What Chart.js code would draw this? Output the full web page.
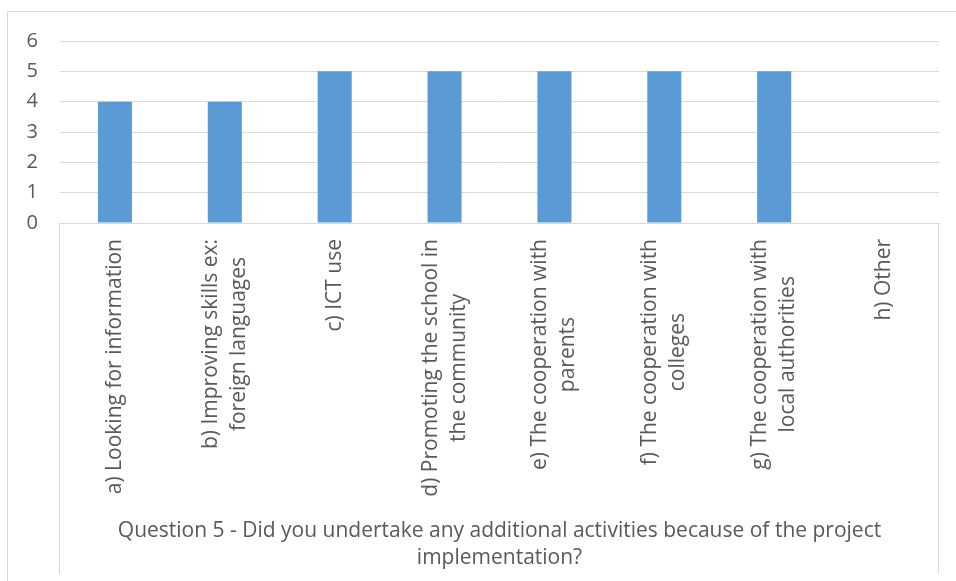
<!DOCTYPE html>
<html>
<head>
<meta charset="utf-8">
<script src="https://cdn.jsdelivr.net/npm/chart.js@4/dist/chart.umd.min.js"></script>
<style>
  html, body { margin: 0; padding: 0; background: #ffffff; }
  #wrap { width: 956px; height: 581px; }
</style>
</head>
<body>
<div id="wrap"><canvas id="c" width="956" height="581"></canvas></div>
<script>
// ---- data ----
const categories = [
  ["a) Looking for information"],
  ["b) Improving skills ex:", "foreign languages"],
  ["c) ICT use"],
  ["d) Promoting the school in", "the community"],
  ["e) The cooperation with", "parents"],
  ["f) The cooperation with", "colleges"],
  ["g) The cooperation with", "local authorities"],
  ["h) Other"]
];
const values = [4, 4, 5, 5, 5, 5, 5, 0];
const yTicks = [0, 1, 2, 3, 4, 5, 6];
const axisTitle = ["Question 5 - Did you undertake any additional activities because of the project", "implementation?"];

const FONT = "'Open Sans', 'Liberation Sans', sans-serif";
const TEXT = "#595959";
const GRID = "#d9d9d9";
const LABEL_SIZE = 21;
const LABEL_LINE = 28;

const framePlugin = {
  id: 'frame',
  beforeDraw(chart) {
    const ctx = chart.ctx;
    ctx.save();
    ctx.fillStyle = '#ffffff';
    ctx.fillRect(0, 0, chart.width, chart.height);
    ctx.strokeStyle = GRID;
    ctx.lineWidth = 1;
    ctx.beginPath();
    ctx.moveTo(7.5, chart.height);
    ctx.lineTo(7.5, 11.5);
    ctx.lineTo(chart.width, 11.5);
    ctx.stroke();
    ctx.restore();
  },
  afterDraw(chart) {
    const ctx = chart.ctx;
    const xs = chart.scales.x;
    const area = chart.chartArea;
    ctx.save();
    ctx.strokeStyle = GRID;
    ctx.lineWidth = 1;
    ctx.beginPath();
    const l = Math.round(area.left) - 0.5, r = Math.round(area.right) - 0.5;
    ctx.moveTo(l, area.bottom);
    ctx.lineTo(l, 574);
    ctx.moveTo(r, area.bottom);
    ctx.lineTo(r, 574);
    ctx.stroke();

    // category labels, rotated, lines centered in block
    ctx.font = LABEL_SIZE + "px " + FONT;
    ctx.fillStyle = TEXT;
    ctx.textBaseline = 'middle';
    categories.forEach((lines, i) => {
      const x = xs.getPixelForTick(i);
      const yTop = area.bottom + 16;
      const widths = lines.map(s => ctx.measureText(s).width);
      const W = Math.max(...widths);
      ctx.save();
      ctx.translate(x, yTop);
      ctx.rotate(-Math.PI / 2);
      ctx.textAlign = 'center';
      lines.forEach((s, j) => {
        const off = (j - (lines.length - 1) / 2) * LABEL_LINE;
        ctx.fillText(s, -W / 2, off);
      });
      ctx.restore();
    });
    ctx.restore();
  }
};

new Chart(document.getElementById('c'), {
  type: 'bar',
  data: {
    labels: categories.map(c => c.join(' ')),
    datasets: [{
      data: values,
      backgroundColor: '#5b9bd5',
      borderWidth: 0,
      barPercentage: 0.31,
      categoryPercentage: 1.0
    }]
  },
  options: {
    responsive: false,
    animation: false,
    devicePixelRatio: 1,
    layout: { padding: { top: 41, left: 8, right: 17, bottom: 0 } },
    plugins: { legend: { display: false }, tooltip: { enabled: false } },
    scales: {
      x: {
        grid: { display: false },
        border: { display: true, color: GRID, width: 1 },
        ticks: { display: false },
        title: {
          display: true,
          text: axisTitle,
          color: TEXT,
          font: { family: FONT, size: 21, lineHeight: 1.3 },
          padding: { top: 0, bottom: 9 }
        },
        afterFit(scale) { scale.height = 358; }
      },
      y: {
        min: 0,
        max: 6,
        afterBuildTicks(scale) { scale.ticks = yTicks.map(v => ({ value: v })); },
        grid: { color: GRID, lineWidth: 1, drawTicks: false },
        border: { display: false },
        ticks: {
          color: TEXT,
          padding: 22,
          font: { family: FONT, size: 20 }
        },
        afterFit(scale) { scale.width = 52; }
      }
    }
  },
  plugins: [framePlugin]
});
</script>
</body>
</html>
